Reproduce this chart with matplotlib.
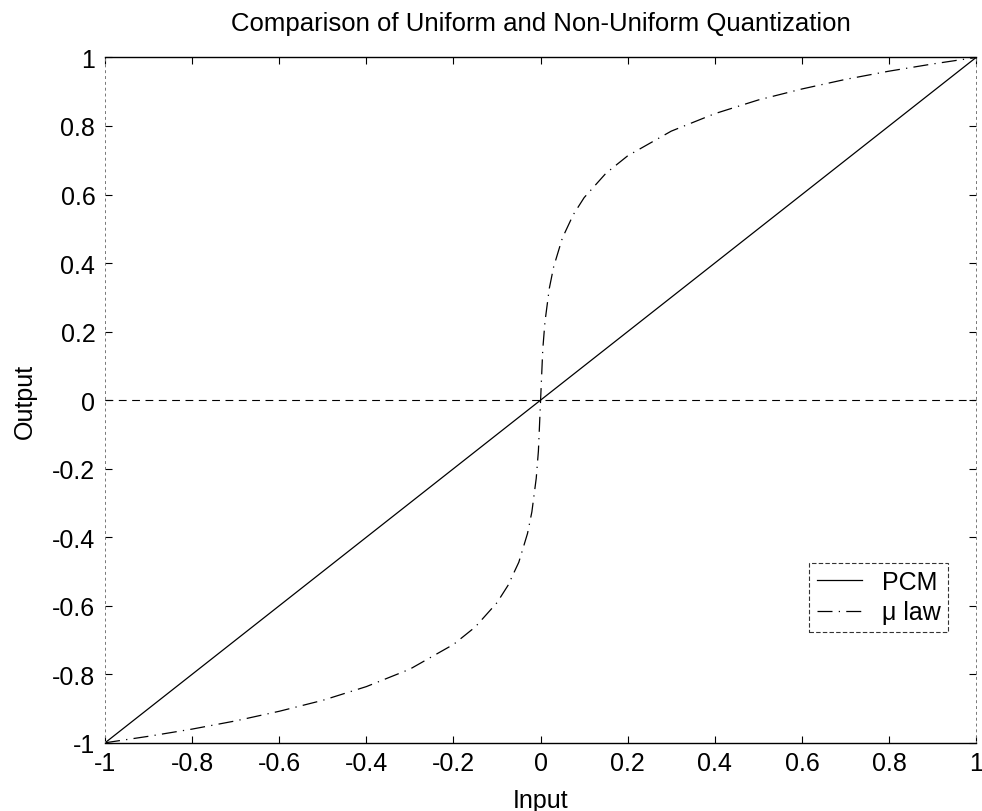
import matplotlib
matplotlib.use("Agg")
import matplotlib.pyplot as plt

plt.rcParams["font.family"] = ["Liberation Sans", "DejaVu Sans"]

# PCM: uniform quantizer, straight line
pcm_x = [-1.0, 1.0]
pcm_y = [-1.0, 1.0]

# mu law curve
mu_x = [-1.0, -0.9, -0.8, -0.7, -0.6, -0.5, -0.4, -0.3, -0.2, -0.15, -0.1,
        -0.075, -0.05, -0.03, -0.02, -0.01, -0.005, 0.0,
        0.005, 0.01, 0.02, 0.03, 0.05, 0.075, 0.1, 0.15, 0.2, 0.3, 0.4,
        0.5, 0.6, 0.7, 0.8, 0.9, 1.0]
mu_y = [-1.0, -0.981, -0.96, -0.936, -0.908, -0.876, -0.836, -0.785, -0.713,
        -0.662, -0.591, -0.541, -0.473, -0.389, -0.326, -0.228, -0.148, 0.0,
        0.148, 0.228, 0.326, 0.389, 0.473, 0.541, 0.591, 0.662, 0.713, 0.785,
        0.836, 0.876, 0.908, 0.936, 0.96, 0.981, 1.0]

ticks = [-1, -0.8, -0.6, -0.4, -0.2, 0, 0.2, 0.4, 0.6, 0.8, 1]
tick_labels = ["-1", "-0.8", "-0.6", "-0.4", "-0.2", "0", "0.2", "0.4", "0.6", "0.8", "1"]

fig = plt.figure(figsize=(9.82, 8.12), dpi=100)
ax = fig.add_axes([0.107, 0.084, 0.887, 0.844])

ax.plot(pcm_x, pcm_y, color="black", linewidth=0.9, label="PCM")
ax.plot(mu_x, mu_y, color="black", linewidth=0.9, linestyle=(0, (12, 5, 1, 5)),
        label="\u03bc law")
ax.axhline(0, color="black", linewidth=0.8, linestyle=(0, (7, 5)))

ax.set_xlim(-1, 1)
ax.set_ylim(-1, 1)
ax.set_xticks(ticks)
ax.set_xticklabels(tick_labels)
ax.set_yticks(ticks)
ax.set_yticklabels(tick_labels)
ax.tick_params(direction="in", length=5, width=0.8, labelsize=18,
               top=True, right=True)
ax.tick_params(axis="y", pad=7)
ax.tick_params(axis="x", pad=6)

for side in ["top", "bottom"]:
    ax.spines[side].set_linewidth(1.0)
for side in ["left", "right"]:
    ax.spines[side].set_linewidth(0.7)
    ax.spines[side].set_linestyle((0, (2, 4)))
    ax.spines[side].set_color("#777777")

ax.set_title("Comparison of Uniform and Non-Uniform Quantization", fontsize=18.5, pad=20)
ax.set_xlabel("Input", fontsize=18, labelpad=9)
ax.set_ylabel("Output", fontsize=18, labelpad=11)

leg = ax.legend(loc="lower right", bbox_to_anchor=(0.968, 0.162), fontsize=18,
                frameon=True, fancybox=False, handlelength=1.8, borderpad=0.3,
                borderaxespad=0, labelspacing=0.25, handletextpad=0.8)
leg.get_frame().set_edgecolor("black")
leg.get_frame().set_linewidth(0.8)
leg.get_frame().set_linestyle((0, (4, 2)))

fig.savefig("out.png", dpi=100)
